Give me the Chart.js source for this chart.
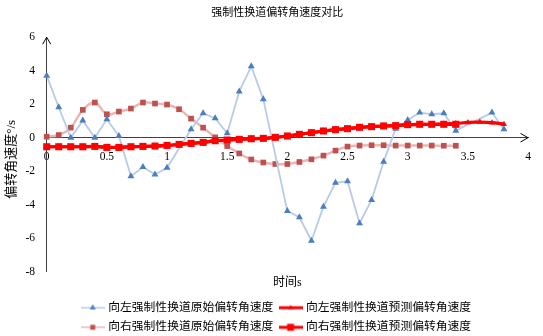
<!DOCTYPE html>
<html>
<head>
<meta charset="utf-8">
<script src="https://cdn.jsdelivr.net/npm/chart.js@4"></script>
<style>
  html, body { margin: 0; padding: 0; background: #fff; }
  #wrap { width: 543px; height: 336px; }
</style>
</head>
<body>
<div id="wrap"><canvas id="chart"></canvas></div>
<script>
// 向左强制性换道 原始值 (points hidden under other marks are not listed)
const leftRawT = [0, 0.1, 0.2, 0.3, 0.4, 0.5, 0.6, 0.7, 0.8, 0.9, 1.0, 1.2, 1.3, 1.4, 1.5, 1.6, 1.7, 1.8,
  2.0, 2.1, 2.2, 2.3, 2.4, 2.5, 2.6, 2.7, 2.8, 2.9, 3.0, 3.1, 3.2, 3.3, 3.4, 3.7, 3.8];
const leftRawV = [3.7, 1.82, 0.0, 1.02, 0.0, 1.1, 0.1, -2.3, -1.75, -2.2, -1.8, 0.5, 1.46, 1.16, 0.26, 2.76, 4.26, 2.3,
  -4.38, -4.75, -6.15, -4.12, -2.69, -2.6, -5.11, -3.72, -1.43, 0.54, 1.06, 1.5, 1.4, 1.46, 0.42, 1.5, 0.5];

// 向左强制性换道 预测值
const leftPredT = [0, 0.1, 0.2, 0.3, 0.4, 0.5, 0.6, 0.7, 0.8, 0.9, 1.0, 1.1, 1.2, 1.3, 1.4, 1.5, 1.6, 1.7, 1.8, 1.9,
  2.0, 2.1, 2.2, 2.3, 2.4, 2.5, 2.6, 2.7, 2.8, 2.9, 3.0, 3.1, 3.2, 3.3, 3.4, 3.5, 3.6, 3.7, 3.8];
const leftPredV = [-0.54, -0.54, -0.54, -0.54, -0.52, -0.57, -0.57, -0.54, -0.52, -0.5, -0.46, -0.4, -0.34, -0.28, -0.18,
  -0.14, -0.1, -0.06, -0.04, 0.02, 0.1, 0.2, 0.3, 0.4, 0.48, 0.54, 0.62, 0.66, 0.7, 0.72, 0.78, 0.8, 0.8, 0.82, 0.85,
  0.91, 0.93, 0.9, 0.81];

// 向右强制性换道 原始值
const rightRawT = [0, 0.1, 0.2, 0.3, 0.4, 0.5, 0.6, 0.7, 0.8, 0.9, 1.0, 1.1, 1.2, 1.3, 1.4, 1.5, 1.6, 1.7, 1.8, 1.9,
  2.0, 2.1, 2.2, 2.3, 2.4, 2.5, 2.6, 2.7, 2.8, 2.9, 3.0, 3.1, 3.2, 3.3, 3.4];
const rightRawV = [0.06, 0.16, 0.6, 1.66, 2.1, 1.4, 1.56, 1.74, 2.1, 2.04, 1.98, 1.7, 1.14, 0.6, 0.02, -0.5, -0.94, -1.3,
  -1.48, -1.57, -1.57, -1.45, -1.29, -1.07, -0.77, -0.53, -0.47, -0.45, -0.45, -0.47, -0.47, -0.47, -0.47, -0.48, -0.48];

// 向右强制性换道 预测值
const rightPredT = [0, 0.1, 0.2, 0.3, 0.4, 0.5, 0.6, 0.7, 0.8, 0.9, 1.0, 1.1, 1.2, 1.3, 1.4, 1.5, 1.6, 1.7, 1.8, 1.9,
  2.0, 2.1, 2.2, 2.3, 2.4, 2.5, 2.6, 2.7, 2.8, 2.9, 3.0, 3.1, 3.2, 3.3, 3.4];
const rightPredV = [-0.54, -0.54, -0.54, -0.54, -0.52, -0.58, -0.58, -0.54, -0.52, -0.5, -0.46, -0.4, -0.34, -0.28, -0.18,
  -0.14, -0.1, -0.06, -0.04, 0.02, 0.1, 0.2, 0.3, 0.4, 0.48, 0.54, 0.62, 0.66, 0.7, 0.72, 0.78, 0.8, 0.8, 0.8, 0.8];

const seriesNames = ['向左强制性换道原始偏转角速度', '向左强制性换道预测偏转角速度',
  '向右强制性换道原始偏转角速度', '向右强制性换道预测偏转角速度'];

const X_MIN = 0, X_MAX = 4, X_STEP = 0.5;
const Y_MIN = -8, Y_MAX = 6, Y_STEP = 2;

const BLUE_LINE = '#b7cbe6', BLUE_PT = '#4a7ebf';
const PINK_LINE = '#e8b8b7', PINK_PT = '#c0504d';
const RED = '#ff0000';

const FONT = "'Liberation Serif', 'Noto Sans CJK SC', serif";
Chart.defaults.font.family = FONT;
Chart.defaults.color = '#000';

const pts = (t, v) => t.map((x, i) => ({ x, y: v[i] }));

// small line+marker pictures for the legend
function legendIcon(lineColor, lineW, shape, ptColor, size) {
  const c = document.createElement('canvas');
  c.width = 24; c.height = 12;
  const g = c.getContext('2d');
  g.strokeStyle = lineColor; g.lineWidth = lineW;
  g.beginPath(); g.moveTo(0, 6); g.lineTo(24, 6); g.stroke();
  g.fillStyle = ptColor;
  g.beginPath();
  if (shape === 'triangle') {
    g.moveTo(12, 6 - size); g.lineTo(12 + size * 0.87, 6 + size * 0.5); g.lineTo(12 - size * 0.87, 6 + size * 0.5);
    g.closePath();
  } else {
    g.rect(12 - size, 6 - size, size * 2, size * 2);
  }
  g.fill();
  return c;
}
const icons = [
  legendIcon(BLUE_LINE, 1.5, 'triangle', BLUE_PT, 3.5),
  legendIcon(RED, 3, 'triangle', RED, 3),
  legendIcon(PINK_LINE, 1.5, 'rect', PINK_PT, 2.5),
  legendIcon(RED, 3, 'rect', RED, 3.5),
];

const arrows = {
  id: 'arrows',
  afterDraw(chart) {
    const { ctx, chartArea, scales: { x, y } } = chart;
    const x0 = x.getPixelForValue(0), y0 = y.getPixelForValue(0);
    ctx.save();
    ctx.strokeStyle = '#000';
    ctx.lineWidth = 1;
    ctx.beginPath();
    ctx.moveTo(chartArea.right - 7.5, y0 - 4.3);
    ctx.lineTo(chartArea.right, y0);
    ctx.lineTo(chartArea.right - 7.5, y0 + 4.3);
    ctx.moveTo(x0 - 4, chartArea.top + 7);
    ctx.lineTo(x0, chartArea.top);
    ctx.lineTo(x0 + 4, chartArea.top + 7);
    ctx.stroke();
    ctx.restore();
  }
};

const fmt = v => String(Math.round(v * 10) / 10);

new Chart(document.getElementById('chart'), {
  type: 'line',
  data: {
    datasets: [
      {
        label: seriesNames[0], data: pts(leftRawT, leftRawV),
        borderColor: BLUE_LINE, borderWidth: 1.8, tension: 0,
        pointStyle: 'triangle', pointRadius: 4, pointBackgroundColor: BLUE_PT, pointBorderWidth: 0,
        order: 3,
      },
      {
        label: seriesNames[1], data: pts(leftPredT, leftPredV),
        borderColor: RED, borderWidth: 3.2, tension: 0.3,
        pointStyle: 'triangle', pointRadius: 3.5, pointBackgroundColor: RED, pointBorderWidth: 0,
        order: 2,
      },
      {
        label: seriesNames[2], data: pts(rightRawT, rightRawV),
        borderColor: PINK_LINE, borderWidth: 2.5, tension: 0.4,
        pointStyle: 'rect', pointRadius: 4, pointBackgroundColor: PINK_PT, pointBorderWidth: 0,
        order: 4,
      },
      {
        label: seriesNames[3], data: pts(rightPredT, rightPredV),
        borderColor: RED, borderWidth: 3.2, tension: 0.3,
        pointStyle: 'rect', pointRadius: 5, pointBackgroundColor: RED, pointBorderWidth: 0,
        order: 1,
      },
    ]
  },
  options: {
    responsive: true, maintainAspectRatio: false, animation: false,
    clip: false,
    layout: { padding: { left: 11.4, right: 0, top: 0, bottom: -7.2 } },
    plugins: {
      title: {
        display: true, text: '强制性换道偏转角速度对比',
        font: { size: 11, weight: 'normal' }, color: '#000',
        padding: { top: 6.1, bottom: 17.9 },
      },
      legend: {
        position: 'bottom',
        labels: {
          usePointStyle: true, pointStyleWidth: 19, padding: 7.8,
          font: { size: 11.8 }, color: '#000',
          generateLabels(chart) {
            const items = Chart.defaults.plugins.legend.labels.generateLabels(chart);
            items.forEach(it => { it.pointStyle = icons[it.datasetIndex]; });
            return items;
          },
          sort: (a, b) => a.datasetIndex - b.datasetIndex,
        }
      },
      tooltip: { enabled: false },
    },
    scales: {
      x: {
        type: 'linear', position: { y: 0 }, min: X_MIN, max: X_MAX,
        grid: { display: false, drawTicks: false },
        border: { color: '#404040', width: 1 },
        ticks: { stepSize: X_STEP, padding: 12.1, maxRotation: 0, font: { size: 11.5 }, color: '#000', callback: fmt },
      },
      x2: {
        type: 'linear', position: 'bottom', min: X_MIN, max: X_MAX,
        grid: { display: false, drawTicks: false },
        border: { display: false },
        ticks: { display: false },
        title: { display: true, text: '时间s', font: { size: 12 }, color: '#000', padding: { top: 4.1, bottom: 3.8 } },
      },
      y: {
        type: 'linear', position: 'left', min: Y_MIN, max: Y_MAX,
        grid: { display: false, drawTicks: false },
        border: { color: '#404040', width: 1 },
        ticks: { stepSize: Y_STEP, padding: 11.7, font: { size: 11.5 }, color: '#000', callback: fmt },
        title: { display: true, text: '偏转角速度°/s   ', font: { size: 13 }, color: '#000', padding: { top: -7.5, bottom: 0 } },
        afterFit(s) { s.width = 35.3; },
      },
      yr: {
        type: 'linear', position: 'right',
        grid: { display: false, drawTicks: false },
        border: { display: false },
        ticks: { display: false },
        afterFit(s) { s.width = 8.3; },
      },
    }
  },
  plugins: [arrows]
});
</script>
</body>
</html>
